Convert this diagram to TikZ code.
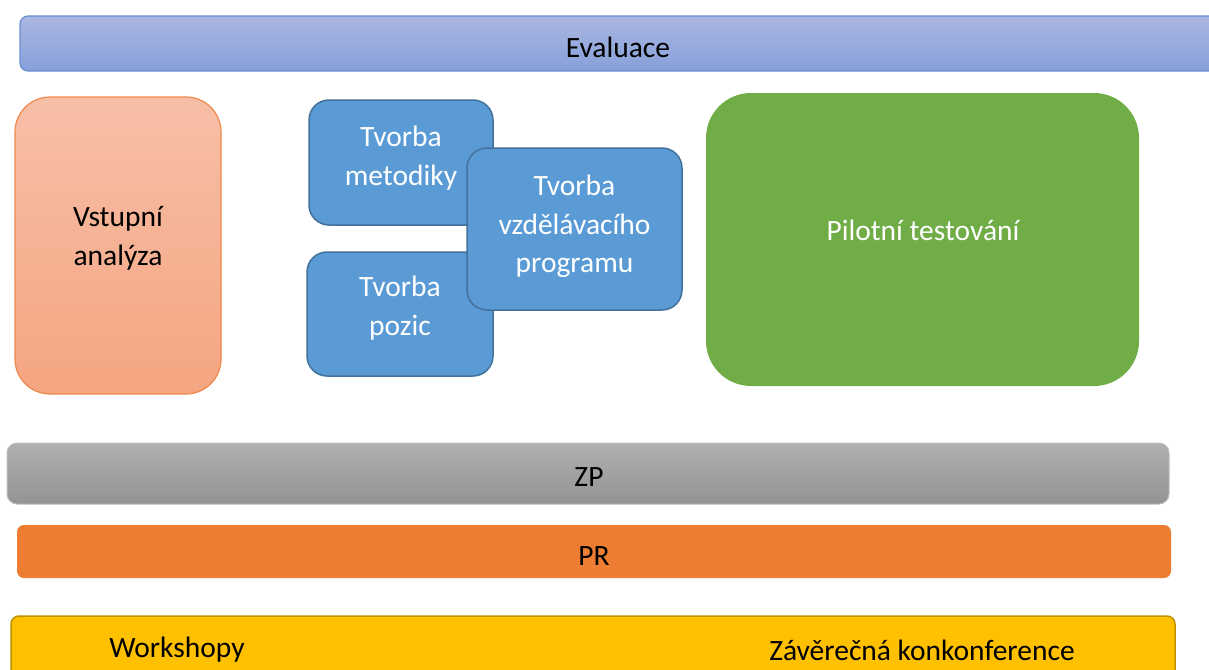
\documentclass[tikz,border=0pt]{standalone}
\usepackage{fontspec}
\setmainfont{Carlito}
\definecolor{evtop}{HTML}{AAB7E1}
\definecolor{evbot}{HTML}{86A0D9}
\definecolor{evline}{HTML}{6A8ED0}
\definecolor{vatop}{HTML}{F7BFA7}
\definecolor{vabot}{HTML}{F5A581}
\definecolor{valine}{HTML}{F0874A}
\definecolor{bluefill}{HTML}{5B9BD5}
\definecolor{blueline}{HTML}{41719C}
\definecolor{greenfill}{HTML}{70AD47}
\definecolor{zptop}{HTML}{B0B0B0}
\definecolor{zpbot}{HTML}{939393}
\definecolor{zpline}{HTML}{BDBDBD}
\definecolor{prfill}{HTML}{ED7D31}
\definecolor{yelfill}{HTML}{FFC000}
\definecolor{yelline}{HTML}{BF9000}
\tikzset{
  box/.style={rectangle, inner sep=0pt, align=center, font=\fontsize{29.5}{38.5}\selectfont},
  bluebox/.style={box, rounded corners=20pt, fill=bluefill, draw=blueline, line width=1.5pt, text=white},
}
\begin{document}
\begin{tikzpicture}[x=1pt,y=-1pt]
\useasboundingbox (0,0) rectangle (1209,669);
\clip (0,0) rectangle (1209,669);
% Evaluace
\node[box, rounded corners=8pt, top color=evtop, bottom color=evbot, draw=evline, line width=1.2pt,
  minimum width=1220pt, minimum height=55pt] (ev) at (630,43.5) {};
\node[box] (evt) at (618,47) {Evaluace};
% Vstupni analyza
\node[box, rounded corners=35pt, top color=vatop, bottom color=vabot, draw=valine, line width=1.2pt,
  minimum width=206pt, minimum height=297pt] (va) at (118,245.5) {};
\node[box] (vat) at (118,238.5) {Vstupní\\analýza};
% blue boxes
\node[bluebox, minimum width=184pt, minimum height=125pt] (met) at (401,162.5) {};
\node[box, text=white] (mett) at (401,158) {Tvorba\\metodiky};
\node[bluebox, minimum width=186pt, minimum height=124pt] (poz) at (400,314) {};
\node[box, text=white] (pozt) at (400,308) {Tvorba\\pozic};
\node[bluebox, minimum width=215pt, minimum height=162pt] (prog) at (574.5,229) {};
\node[box, text=white] (progt) at (574.5,226.5) {Tvorba\\vzdělávacího\\programu};
% Pilotni testovani
\node[box, rounded corners=45pt, fill=greenfill, minimum width=433pt, minimum height=293pt, text=white] (pil) at (922.5,239.5) {};
\node[box, text=white] (pilt) at (923,230) {Pilotní testování};
% ZP
\node[box, rounded corners=10pt, top color=zptop, bottom color=zpbot, draw=zpline, line width=1pt,
  minimum width=1162pt, minimum height=61pt] (zp) at (588,473.5) {};
\node[box] (zpt) at (589,477) {ZP};
% PR
\node[box, rounded corners=7pt, fill=prfill, minimum width=1154pt, minimum height=53pt] (pr) at (594,551.5) {};
\node[box] (prt) at (594,556) {PR};
% yellow
\node[box, rounded corners=8pt, fill=yelfill, draw=yelline, line width=1.5pt,
  minimum width=1164pt, minimum height=70pt] (yel) at (593,651) {};
\node[box] (ws) at (177,650) {Workshopy};
\node[box] (zk) at (922,650) {Závěrečná konkonference};
\end{tikzpicture}
\end{document}
